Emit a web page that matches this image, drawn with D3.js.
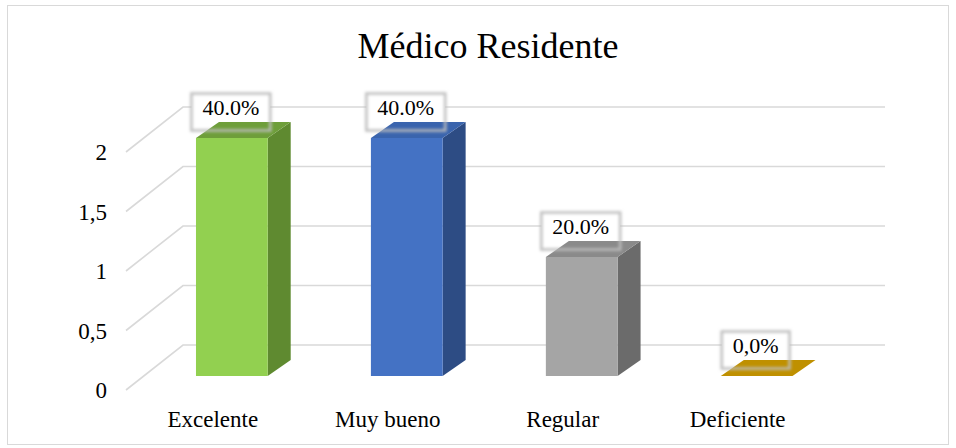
<!DOCTYPE html>
<html><head><meta charset="utf-8">
<script src="https://cdn.jsdelivr.net/npm/d3@7"></script>
<style>html,body{margin:0;padding:0;background:#fff}svg{display:block}
svg text{font-family:"Liberation Serif","Times New Roman",Times,serif;}</style>
</head><body>
<svg id="c" width="956" height="448"></svg>
<script>
const categories = ["Excelente", "Muy bueno", "Regular", "Deficiente"];
const values = [2, 2, 1, 0];
const dataLabels = ["40.0%", "40.0%", "20.0%", "0,0%"];
const tickValues = [0, 0.5, 1, 1.5, 2];
const tickLabels = ["0", "0,5", "1", "1,5", "2"];
const frontColors = ["#92D050", "#4472C4", "#A5A5A5", "#BF9000"];
const topColors = ["#6E9E3A", "#3A64AD", "#8A8A8A", "#BF9000"];
const sideColors = ["#5F8A30", "#2D4C84", "#6B6B6B", "#9A7400"];
const title = "Médico Residente";

const svg = d3.select("#c");

// outer frame
svg.append("rect").attr("x", 7.5).attr("y", 5.5).attr("width", 941).attr("height", 439)
  .attr("fill", "#fff").attr("stroke", "#d9d9d9").attr("stroke-width", 1);

svg.append("text").attr("x", 488).attr("y", 58).attr("text-anchor", "middle")
  .attr("font-size", 36).attr("fill", "#000").text(title);

// scales
const yBack = d3.scaleLinear().domain([0, 2]).range([345, 107]);
const yFront = d3.scaleLinear().domain([0, 2]).range([376, 138]);
const x = d3.scaleBand().domain(categories).range([143.5, 845]).paddingInner(0.59).paddingOuter(0.3);
const wallDepth = [-57, 45];   // back wall -> front edge
const barDepth = [23, -16];    // bar front -> bar back
const backLeft = 183, backRight = 885;

// gridlines
const grid = svg.append("g").attr("stroke", "#d9d9d9").attr("stroke-width", 1.6).attr("fill", "none");
tickValues.forEach(v => {
  const yb = yBack(v);
  grid.append("path").attr("d", `M${backLeft + wallDepth[0]},${yb + wallDepth[1]}L${backLeft},${yb}L${backRight},${yb}`);
});

// tick labels
svg.append("g").selectAll("text").data(tickValues).join("text")
  .attr("x", 107).attr("y", v => yBack(v) + wallDepth[1])
  .attr("dy", "0.35em").attr("text-anchor", "end")
  .attr("font-size", 23).attr("fill", "#000")
  .text((v, i) => tickLabels[i]);

// shadow filter
const defs = svg.append("defs");
const f = defs.append("filter").attr("id", "blur").attr("x", "-20%").attr("y", "-30%").attr("width", "140%").attr("height", "160%");
f.append("feGaussianBlur").attr("stdDeviation", 1.6);

// label boxes (fill behind bars)
const labelG = svg.append("g");
const boxes = categories.map((c, i) => {
  const cx = x(c) + x.bandwidth() / 2 - 1;
  const cy = yFront(values[i]) - 26;
  return {cx, cy, i};
});
const tmp = svg.append("text").attr("font-size", 22);
boxes.forEach(b => { tmp.text(dataLabels[b.i]); b.w = tmp.node().getComputedTextLength() + 22; b.h = 37; });
tmp.remove();
labelG.selectAll("rect").data(boxes).join("rect")
  .attr("x", b => b.cx - b.w / 2).attr("y", b => b.cy - b.h / 2)
  .attr("width", b => b.w).attr("height", b => b.h).attr("fill", "#fff");

// bars
const bars = svg.append("g");
categories.forEach((c, i) => {
  const x0 = x(c), x1 = x0 + x.bandwidth();
  const yt = yFront(values[i]), yb = yFront(0);
  const [dx, dy] = barDepth;
  const g = bars.append("g");
  if (values[i] > 0) {
    g.append("path").attr("fill", sideColors[i])
      .attr("d", `M${x1},${yt}L${x1 + dx},${yt + dy}L${x1 + dx},${yb + dy}L${x1},${yb}Z`);
    g.append("rect").attr("x", x0).attr("y", yt).attr("width", x1 - x0).attr("height", yb - yt).attr("fill", frontColors[i]);
  }
  g.append("path").attr("fill", topColors[i])
    .attr("d", `M${x0},${yt}L${x0 + dx},${yt + dy}L${x1 + dx},${yt + dy}L${x1},${yt}Z`);
});

// label box borders and text
const over = svg.append("g");
over.selectAll("rect").data(boxes).join("rect")
  .attr("x", b => b.cx - b.w / 2).attr("y", b => b.cy - b.h / 2)
  .attr("width", b => b.w).attr("height", b => b.h)
  .attr("fill", "none").attr("stroke", "#bdbdbd").attr("stroke-width", 2.5).attr("filter", "url(#blur)");
over.selectAll("text").data(boxes).join("text")
  .attr("x", b => b.cx).attr("y", b => b.cy + 3).attr("text-anchor", "middle")
  .attr("font-size", 22).attr("fill", "#000")
  .text(b => dataLabels[b.i]);

// category labels
svg.append("g").selectAll("text").data(categories).join("text")
  .attr("x", c => x(c) + x.bandwidth() / 2 - 19).attr("y", 427)
  .attr("text-anchor", "middle").attr("font-size", 23).attr("fill", "#000")
  .text(c => c);
</script>
</body></html>
